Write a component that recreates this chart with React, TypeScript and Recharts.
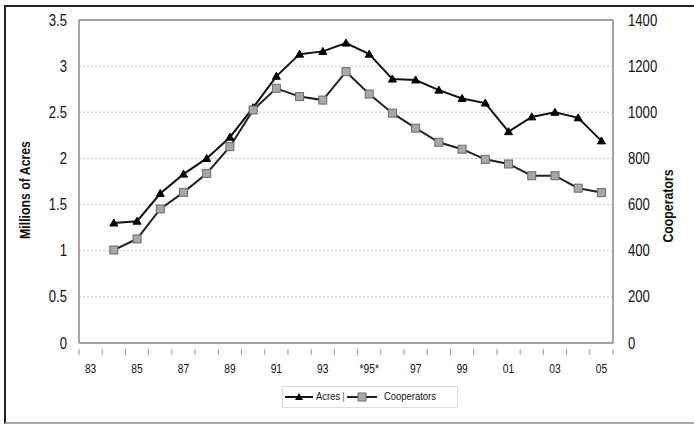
import React from "react";
import { ComposedChart, Line, XAxis, YAxis, CartesianGrid, ReferenceLine } from "recharts";

const years = ["83","84","85","86","87","88","89","90","91","92","93","94","95","96","97","98","99","00","01","02","03","04","05"];
const yearLabels = ["83","84","85","86","87","88","89","90","91","92","93","94","*95*","96","97","98","99","00","01","02","03","04","05"];
const acres: (number | null)[] = [null,1.30,1.32,1.62,1.83,2.00,2.23,2.55,2.89,3.13,3.16,3.25,3.13,2.86,2.85,2.74,2.65,2.60,2.29,2.45,2.50,2.44,2.19];
const cooperators: (number | null)[] = [null,403,451,581,653,735,851,1010,1104,1068,1053,1176,1079,996,931,870,840,796,776,725,725,671,652];
const leftTicks = [0,0.5,1,1.5,2,2.5,3,3.5];
const rightTicks = [0,200,400,600,800,1000,1200,1400];

const data = years.map((y, i) => ({ year: yearLabels[i], acres: acres[i], cooperators: cooperators[i] }));

const FONT = "'Liberation Sans', Arial, sans-serif";
const SX = 0.82;

const TriDot = (props: any) => {
  const { cx, cy, index } = props;
  if (cx == null || cy == null || props.value == null) return <g key={`t${index}`} />;
  return <polygon key={`t${index}`} points={`${cx},${cy - 4} ${cx - 4},${cy + 3} ${cx + 4},${cy + 3}`} fill="#000" stroke="#000" />;
};
const SqDot = (props: any) => {
  const { cx, cy, index } = props;
  if (cx == null || cy == null || props.value == null) return <g key={`s${index}`} />;
  return <rect key={`s${index}`} x={cx - 4} y={cy - 4} width={8} height={8} fill="#a8a8a8" stroke="#6a6a6a" strokeWidth={1} />;
};

const XTick = (props: any) => {
  const { x, y, payload, index } = props;
  const off = payload && payload.offset ? payload.offset : 11.6;
  const last = index === years.length - 1;
  return (
    <g>
      <line x1={x - off} y1={y - 8} x2={x - off} y2={y - 2} stroke="#999" strokeWidth={1} />
      {last && <line x1={x + off} y1={y - 8} x2={x + off} y2={y - 2} stroke="#999" strokeWidth={1} />}
      {index % 2 === 0 && (
        <text transform={`translate(${x},${y + 16}) scale(${SX},1)`} textAnchor="middle" fontSize={12.5} fill="#111" fontFamily={FONT}>
          {payload.value}
        </text>
      )}
    </g>
  );
};

const LTick = (props: any) => {
  const { x, y, payload } = props;
  return (
    <text transform={`translate(${x},${y + 5.5}) scale(${SX},1)`} textAnchor="end" fontSize={16} fill="#111" fontFamily={FONT}>
      {payload.value}
    </text>
  );
};
const RTick = (props: any) => {
  const { x, y, payload } = props;
  return (
    <text transform={`translate(${x},${y + 5.5}) scale(${SX},1)`} textAnchor="start" fontSize={16} fill="#111" fontFamily={FONT}>
      {payload.value}
    </text>
  );
};

const AxisTitle = (props: any) => {
  const { cxPos, cyPos, text } = props;
  return (
    <text transform={`translate(${cxPos},${cyPos}) rotate(-90) scale(${SX},1)`} textAnchor="middle" fontSize={15} fontWeight="bold" fill="#111" fontFamily={FONT}>
      {text}
    </text>
  );
};

export default function App() {
  return (
    <div style={{ position: "absolute", left: 0, top: 0, width: 694, height: 427, background: "#fff", fontFamily: FONT }}>
      <div style={{ position: "absolute", left: 4, top: 5, width: 690, height: 419, borderLeft: "2px solid #222", borderTop: "2px solid #222", borderBottom: "2px solid #aaa", boxSizing: "border-box" }} />
      <ComposedChart width={694} height={427} data={data} margin={{ top: 20, right: 0, left: 0, bottom: 0 }} style={{ position: "absolute", left: 0, top: 0 }}>
        <CartesianGrid vertical={false} stroke="#c8c8c8" strokeDasharray="2 2" yAxisId="left" />
        <XAxis dataKey="year" scale="band" interval={0} tickLine={false} axisLine={{ stroke: "#888", strokeWidth: 1.5 }}
          tick={<XTick />} tickMargin={8} height={84} />
        <YAxis yAxisId="left" orientation="left" width={79} domain={[0, 3.5]} ticks={leftTicks} tickLine={false}
          axisLine={{ stroke: "#888", strokeWidth: 1.5 }} tick={<LTick />} tickMargin={6}
          label={<AxisTitle cxPos={30} cyPos={190} text="Millions of Acres" />} />
        <YAxis yAxisId="right" orientation="right" width={81} domain={[0, 1400]} ticks={rightTicks} tickLine={false}
          axisLine={{ stroke: "#888", strokeWidth: 1.5 }} tick={<RTick />} tickMargin={9}
          label={<AxisTitle cxPos={673} cyPos={206} text="Cooperators" />} />
        <ReferenceLine yAxisId="left" y={3.5} stroke="#888" strokeWidth={1.5} />
        <Line yAxisId="left" type="linear" dataKey="acres" stroke="#111" strokeWidth={2} dot={TriDot} isAnimationActive={false} />
        <Line yAxisId="right" type="linear" dataKey="cooperators" stroke="#222" strokeWidth={2} dot={SqDot} isAnimationActive={false} />
      </ComposedChart>
      <div style={{ position: "absolute", left: 282, top: 386, width: 176, height: 22, border: "1px solid #ddd", boxSizing: "border-box", fontSize: 11.5, color: "#111" }}>
        <svg width={30} height={12} style={{ position: "absolute", left: 2, top: 4 }}>
          <line x1={0} y1={6} x2={28} y2={6} stroke="#111" strokeWidth={2} />
          <polygon points="14,2 10,9 18,9" fill="#000" />
        </svg>
        <span style={{ position: "absolute", left: 33, top: 3, transform: `scaleX(${SX})`, transformOrigin: "left" }}>Acres</span>
        <span style={{ position: "absolute", left: 59, top: 3, color: "#777" }}>|</span>
        <svg width={32} height={12} style={{ position: "absolute", left: 64, top: 4 }}>
          <line x1={0} y1={6} x2={30} y2={6} stroke="#222" strokeWidth={2} />
          <rect x={11} y={2} width={8} height={8} fill="#a8a8a8" stroke="#6a6a6a" />
        </svg>
        <span style={{ position: "absolute", left: 101, top: 3, transform: `scaleX(${SX})`, transformOrigin: "left" }}>Cooperators</span>
      </div>
    </div>
  );
}
